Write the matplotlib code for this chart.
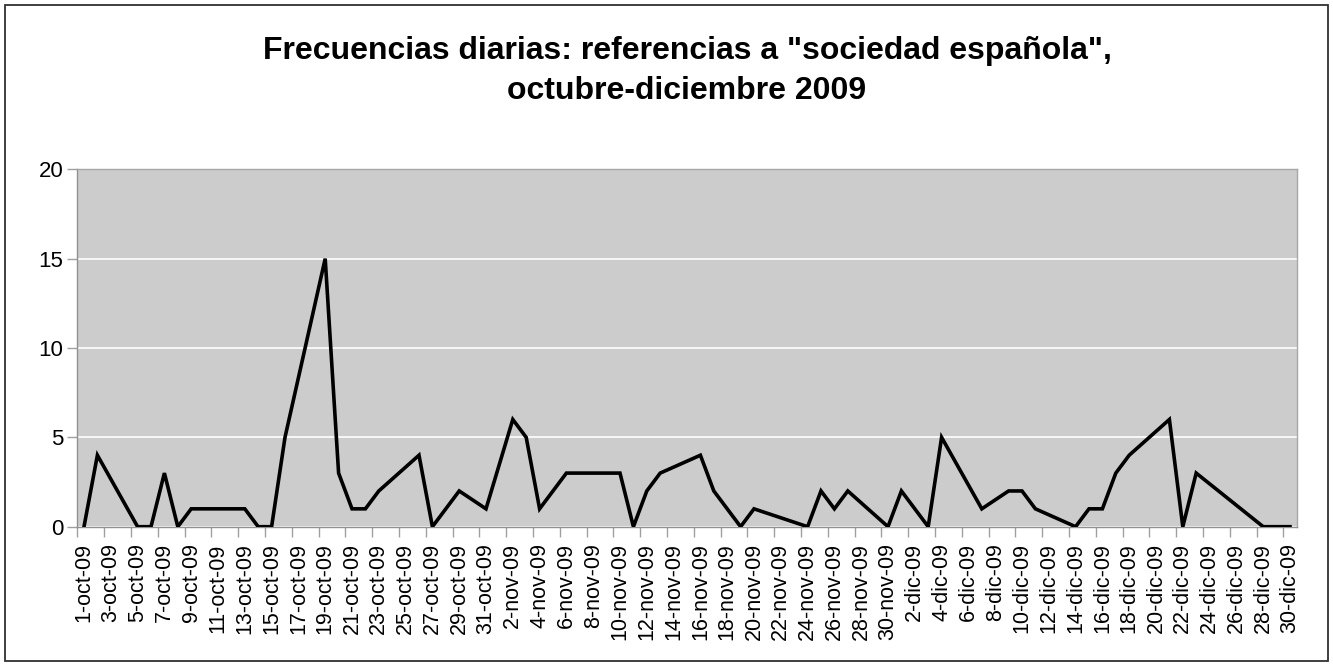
import numpy as np
import matplotlib
matplotlib.use('Agg')
from matplotlib import pyplot as plt
from matplotlib.patches import Rectangle

#-------------------------------------------------

plt.rcParams['font.family'] = ['Liberation Sans', 'DejaVu Sans']

title = 'Frecuencias diarias: referencias a "sociedad española",\noctubre-diciembre 2009'

### one entry per day, 1-oct-09 .. 30-dic-09 (None = no data, line joins across)
days = [('%d-oct-09' % d) for d in range(1, 32)] \
     + [('%d-nov-09' % d) for d in range(1, 31)] \
     + [('%d-dic-09' % d) for d in range(1, 31)]

octubre = [0, 4, None, None, 0, 0, 3, 0, 1, None, None, 1, 1, 0, 0, 5,
           None, None, 15, 3, 1, 1, 2, None, None, 4, 0, 1, 2, None, 1]
noviembre = [None, 6, 5, 1, 2, 3, None, None, 3, 3, 0, 2, 3, None, None,
             4, 2, 1, 0, 1, None, None, None, 0, 2, 1, 2, None, None, 0]
diciembre = [2, 1, 0, 5, None, None, 1, None, 2, 2, 1, None, None, 0, 1,
             1, 3, 4, None, None, 6, 0, 3, None, None, None, None, 0, 0, 0]

counts = octubre + noviembre + diciembre

yticks = [0, 5, 10, 15, 20]

#-------------------------------------------------

fig = plt.figure(figsize=(13.33, 6.66), dpi=100)
ax = fig.add_axes([77.3/1333, 1-526.7/666, (1296.7-77.3)/1333, (526.7-169.3)/666])

xs = [i for i, v in enumerate(counts) if v is not None]
ys = [v for v in counts if v is not None]

ax.set_facecolor('#CCCCCC')
ax.plot(xs, ys, color='black', lw=2.6, solid_joinstyle='miter', zorder=3)

ax.set_xlim(-0.5, len(days)-0.5)
ax.set_ylim(0, 20)
ax.set_yticks(yticks)
ax.yaxis.grid(True, color='white', lw=1.2)
ax.set_axisbelow(True)

### labels on every other day, tick marks between categories
ax.set_xticks(range(0, len(days), 2))
ax.set_xticklabels(days[::2], rotation=90, fontsize=15.5)
ax.set_xticks(np.arange(-0.5, len(days)-1, 2), minor=True)
ax.tick_params(axis='x', which='major', length=0, pad=12)
ax.tick_params(axis='x', which='minor', length=7, color='#A0A0A0', width=1)
ax.tick_params(axis='y', length=7, color='#A0A0A0', width=1, labelsize=16, pad=3)

for s in ax.spines.values():
    s.set_color('#A8A8A8')
    s.set_linewidth(1)
ax.spines['left'].set_color('#909090')
ax.spines['bottom'].set_color('#909090')

fig.text((77.3+1296.7)/2/1333, 1-71/666, title, ha='center', va='center',
         fontsize=23, fontweight='bold', linespacing=1.45)

fig.patches.append(Rectangle((5/1333, 5/666), 1323/1333, 656/666, transform=fig.transFigure,
                             fill=False, edgecolor='#303030', lw=1.3))

fig.savefig('out.png', dpi=100)
plt.close(fig)
